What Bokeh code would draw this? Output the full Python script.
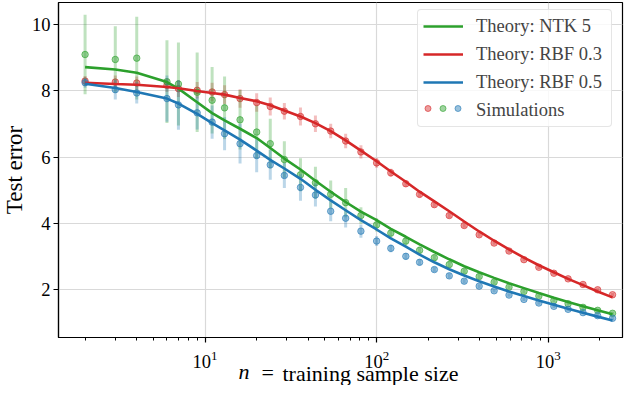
import numpy as np
from bokeh.plotting import figure
from bokeh.models import Legend, LegendItem, FixedTicker, Range1d, ColumnDataSource, Title
from bokeh.embed import file_html
from bokeh.resources import INLINE

# ---------------- data ----------------
n_train = [2, 3, 4, 6, 7, 9, 11, 13, 16, 20, 24, 29, 36, 44, 54, 66, 81, 100, 121, 148,
           178, 217, 265, 324, 396, 484, 591, 722, 882, 1079, 1306, 1595, 1941, 2371]

sim_ntk5 = [9.10, 8.95, 8.99, 8.28, 8.21, 7.96, 7.72, 7.49, 7.13, 6.76, 6.41, 5.93, 5.47, 5.23,
            4.88, 4.63, 4.24, 3.96, 3.71, 3.47, 3.19, 2.97, 2.76, 2.56, 2.40, 2.23, 2.08, 1.95,
            1.81, 1.68, 1.58, 1.47, 1.38, 1.29]
err_ntk5 = [1.20, 1.00, 1.25, 1.25, 1.25, 1.20, 1.00, 0.95, 0.90, 0.80, 0.75, 0.55, 0.50, 0.48,
            0.42, 0.44, 0.25, 0.20, 0.15, 0.14, 0.12, 0.10, 0.10, 0.08, 0.08, 0.07, 0.06, 0.06,
            0.05, 0.05, 0.05, 0.05, 0.05, 0.05]

sim_rbf03 = [8.30, 8.27, 8.24, 8.17, 8.07, 8.02, 7.97, 7.89, 7.77, 7.65, 7.53, 7.39, 7.23, 7.01,
             6.79, 6.49, 6.16, 5.83, 5.53, 5.20, 4.88, 4.57, 4.24, 3.94, 3.66, 3.41, 3.17, 2.91,
             2.68, 2.50, 2.33, 2.16, 2.00, 1.85]
err_rbf03 = [0.15, 0.20, 0.20, 0.20, 0.25, 0.25, 0.28, 0.28, 0.28, 0.28, 0.27, 0.25, 0.27, 0.25,
             0.22, 0.22, 0.20, 0.15, 0.12, 0.10, 0.10, 0.08, 0.08, 0.07, 0.06, 0.05, 0.05, 0.05,
             0.05, 0.05, 0.05, 0.05, 0.05, 0.05]

sim_rbf05 = [8.25, 8.04, 7.94, 7.77, 7.58, 7.34, 7.06, 6.71, 6.41, 6.05, 5.77, 5.45, 5.09, 4.86,
             4.37, 4.16, 3.77, 3.47, 3.25, 3.01, 2.83, 2.61, 2.42, 2.26, 2.11, 1.97, 1.84, 1.71,
             1.60, 1.50, 1.41, 1.31, 1.22, 1.14]
err_rbf05 = [0.15, 0.30, 0.32, 0.70, 0.75, 0.50, 0.50, 0.50, 0.60, 0.50, 0.45, 0.38, 0.40, 0.35,
             0.30, 0.28, 0.20, 0.15, 0.12, 0.10, 0.10, 0.08, 0.08, 0.07, 0.06, 0.05, 0.05, 0.05,
             0.05, 0.05, 0.05, 0.05, 0.05, 0.05]

theory_ntk5 = [8.72, 8.65, 8.55, 8.27, 8.07, 7.66, 7.33, 7.11, 6.86, 6.58, 6.28, 5.96, 5.63, 5.29,
               4.96, 4.65, 4.36, 4.10, 3.84, 3.60, 3.37, 3.14, 2.92, 2.71, 2.53, 2.36, 2.20, 2.05,
               1.90, 1.76, 1.63, 1.50, 1.38, 1.26]
theory_rbf03 = [8.25, 8.21, 8.19, 8.12, 8.08, 8.00, 7.94, 7.89, 7.79, 7.69, 7.57, 7.41, 7.23, 7.03,
                6.79, 6.51, 6.20, 5.88, 5.57, 5.26, 4.96, 4.67, 4.37, 4.06, 3.76, 3.48, 3.22, 2.97,
                2.74, 2.53, 2.33, 2.14, 1.95, 1.77]
theory_rbf05 = [8.22, 8.09, 7.97, 7.77, 7.62, 7.31, 7.03, 6.81, 6.53, 6.20, 5.92, 5.66, 5.35, 5.02,
                4.70, 4.40, 4.10, 3.82, 3.55, 3.30, 3.06, 2.83, 2.62, 2.43, 2.26, 2.10, 1.95, 1.81,
                1.68, 1.55, 1.43, 1.31, 1.19, 1.07]

theory_labels = ["Theory: NTK 5", "Theory: RBF 0.3", "Theory: RBF 0.5"]
sim_label = "Simulations"
y_ticks = [2, 4, 6, 8, 10]

GREEN, RED, BLUE = "#2ca02c", "#d62728", "#1f77b4"
FONT = "Liberation Serif"

# ---------------- figure ----------------
p = figure(width=624, height=385, x_axis_type="log", output_backend="svg",
           toolbar_location=None, x_range=Range1d(1.40, 2710), y_range=Range1d(0.56, 10.67),
           min_border_left=55, min_border_right=2, min_border_top=2, min_border_bottom=48)
p.background_fill_color = "white"
p.border_fill_color = "white"
p.outline_line_color = "black"
p.outline_line_width = 1.2
p.outline_line_alpha = 1

for ax in (p.xaxis[0], p.yaxis[0]):
    ax.axis_line_color = "black"
    ax.axis_line_width = 1.2
    ax.major_tick_out = 5
    ax.major_tick_in = 0
    ax.major_tick_line_width = 1.2
    ax.major_label_text_font = FONT
    ax.major_label_text_font_size = "18.5px"
    ax.major_label_text_color = "black"

p.xaxis.minor_tick_out = 3
p.xaxis.minor_tick_in = 0
p.xaxis.minor_tick_line_width = 1
p.xaxis.major_label_standoff = 8
p.yaxis.minor_tick_line_color = None
p.yaxis.ticker = FixedTicker(ticks=y_ticks)
p.yaxis.major_label_standoff = 3

p.xgrid.grid_line_color = "#d9d9d9"
p.xgrid.grid_line_width = 1.2
p.ygrid.grid_line_color = "#d9d9d9"
p.ygrid.grid_line_width = 1.2
p.ygrid.ticker = FixedTicker(ticks=y_ticks)

# ---------------- simulations ----------------
sims = [(sim_rbf03, err_rbf03, RED), (sim_ntk5, err_ntk5, GREEN), (sim_rbf05, err_rbf05, BLUE)]
sim_markers = []
for ys, es, col in sims:
    ys = np.array(ys); es = np.array(es)
    src = ColumnDataSource(dict(x=n_train, y=ys, lo=ys - es, hi=ys + es))
    p.segment(x0="x", y0="lo", x1="x", y1="hi", source=src, line_color=col,
              line_width=3, line_alpha=0.3)
    r = p.scatter(x="x", y="y", source=src, size=6.5, fill_color=col, fill_alpha=0.45,
                  line_color=col, line_alpha=0.6, line_width=1)
    sim_markers.append(r)

# ---------------- theory ----------------
theory_rs = []
for ys, col in [(theory_ntk5, GREEN), (theory_rbf03, RED), (theory_rbf05, BLUE)]:
    theory_rs.append(p.line(n_train, ys, line_color=col, line_width=2.6))

dummy = p.scatter(x=[], y=[], size=1, fill_alpha=0, line_alpha=0)

# ---------------- legends ----------------
items = [LegendItem(label=lab, renderers=[r]) for lab, r in zip(theory_labels, theory_rs)]
items.append(LegendItem(label=sim_label, renderers=[dummy]))
leg = Legend(items=items, location=(359, 210), glyph_width=40, glyph_height=22,
             label_height=22, label_width=130, spacing=6, padding=5, label_standoff=13,
             label_text_font=FONT, label_text_font_size="18.5px",
             border_line_color="#cccccc", border_line_width=1, border_radius=4,
             background_fill_color="white", background_fill_alpha=0.8)
p.add_layout(leg)

leg2 = Legend(items=[LegendItem(label=" ", renderers=[r]) for r in sim_markers],
              orientation="horizontal", location=(362, 219), glyph_width=15, glyph_height=20,
              label_width=0, label_height=1, label_standoff=0, spacing=0, padding=0,
              label_text_font_size="1px", border_line_color=None,
              background_fill_alpha=0)
p.add_layout(leg2)

# ---------------- axis labels ----------------
y_title = Title(text="Test error", align="center", standoff=1, vertical_align="middle",
                text_font=FONT, text_font_size="23px", text_font_style="normal",
                text_color="black")
p.add_layout(y_title, "left")

x_parts = [("n", 180, "italic"), ("=", 203, "normal"), ("training sample size", 224, "normal")]
for txt, off, style in x_parts:
    p.add_layout(Title(text=txt, align="left", offset=off, standoff=-26.35,
                       vertical_align="middle", text_font=FONT, text_font_size="22px",
                       text_font_style=style, text_color="black"), "below")

open("out.html", "w").write(file_html(p, INLINE))
